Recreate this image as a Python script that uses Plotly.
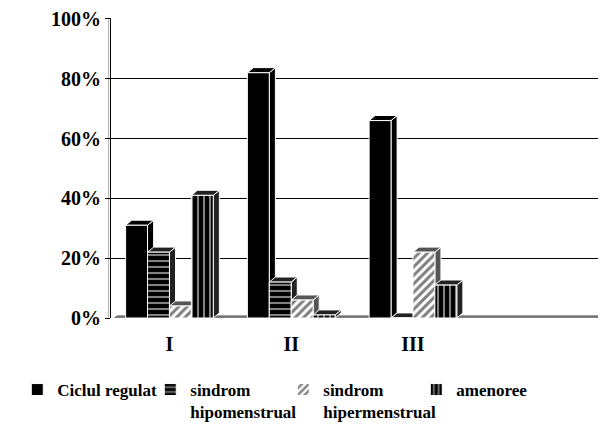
import plotly.graph_objects as go

categories = ["I", "II", "III"]
series_names = ["Ciclul regulat", "sindrom<br>hipomenstrual", "sindrom<br>hipermenstrual", "amenoree"]
ciclul_regulat = [31, 82, 66]
hipomenstrual = [22, 12, 0]
hipermenstrual = [4, 6, 22]
amenoree = [41, 1, 11]
y_ticks = [0, 20, 40, 60, 80, 100]
y_tick_labels = ["0%", "20%", "40%", "60%", "80%", "100%"]

values = [ciclul_regulat, hipomenstrual, hipermenstrual, amenoree]
styles = [
    dict(color="black", pattern=dict(shape="")),
    dict(color="black", pattern=dict(shape="-", fgcolor="white", bgcolor="black", size=6, solidity=0.35)),
    dict(color="white", pattern=dict(shape="/", fgcolor="black", bgcolor="white", size=6, solidity=0.5)),
    dict(color="black", pattern=dict(shape="|", fgcolor="white", bgcolor="black", size=6, solidity=0.35)),
]
cap_colors = ["black", "#222", "#555", "#222"]

W = 0.18
DX = 0.05
DY = 1.7
X0, X1 = -0.48, 3.52
xpos = list(range(len(categories)))

fig = go.Figure()
shapes = []
# floor
shapes.append(dict(type="path", xref="x", yref="y", layer="below",
                   path=f"M {X0} -1 L {X1} -1 L {X1+DX} {DY-1} L {X0+DX} {DY-1} Z",
                   fillcolor="#808080", line=dict(color="#606060", width=1)))
# left wall hint
shapes.append(dict(type="line", xref="paper", yref="y", layer="below",
                   x0=-0.005, x1=-0.005, y0=-1, y1=100,
                   line=dict(color="#b0b0b0", width=1)))
for k, (name, vals, st) in enumerate(zip(series_names, values, styles)):
    off = -2 * W + k * W
    fig.add_trace(go.Bar(
        x=xpos, y=vals, name=name, width=W, offset=off,
        marker=dict(color=st["color"], pattern=st["pattern"],
                    line=dict(color="white", width=1)),
    ))
    for xi, v in zip(xpos, vals):
        x0 = xi + off
        x1 = x0 + W
        shapes.append(dict(type="path", xref="x", yref="y", layer="between",
                           path=f"M {x1} 0 L {x1} {v} L {x1+DX} {v+DY} L {x1+DX} {DY} Z",
                           fillcolor=cap_colors[k], line=dict(color="white", width=1)))
        shapes.append(dict(type="path", xref="x", yref="y", layer="between",
                           path=f"M {x0} {v} L {x1} {v} L {x1+DX} {v+DY} L {x0+DX} {v+DY} Z",
                           fillcolor=cap_colors[k], line=dict(color="white", width=1)))

# page body adds an 8px offset, so the figure is sized to 607x432
fig.update_layout(
    width=607, height=432,
    margin=dict(l=102, r=17, t=10, b=122),
    plot_bgcolor="white", paper_bgcolor="white",
    barmode="overlay",
    shapes=shapes,
    font=dict(family="Liberation Serif", color="black"),
    xaxis=dict(range=[X0, X1], tickvals=xpos, ticktext=categories,
               showgrid=False, zeroline=False, showline=False, ticks="",
               tickfont=dict(size=20, family="Liberation Serif", weight="bold"),
               ticklabelstandoff=12, automargin=False),
    yaxis=dict(range=[0, 100.3], tickvals=y_ticks, ticktext=y_tick_labels,
               showgrid=True, gridcolor="black", gridwidth=1, zeroline=False,
               showline=True, linecolor="black", linewidth=1,
               ticks="outside", ticklen=5, tickcolor="black", automargin=False,
               ticklabeloverflow="allow",
               tickfont=dict(size=20, family="Liberation Serif", weight="bold")),
    legend=dict(orientation="h", x=-0.19, xanchor="left", y=-0.18, yanchor="top",
                font=dict(size=17, family="Liberation Serif", weight="bold"),
                entrywidth=88, valign="top", itemwidth=30, tracegroupgap=0),
    showlegend=True,
)
fig.write_html("out.html")
